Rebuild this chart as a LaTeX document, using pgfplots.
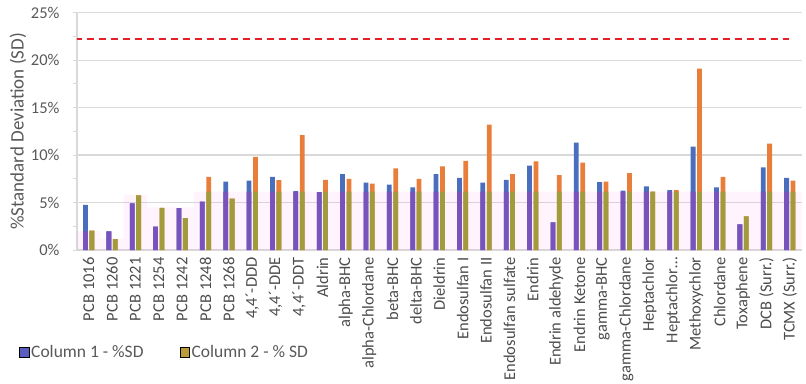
\documentclass[border=0pt]{standalone}
\usepackage{fontspec}
\setmainfont{Carlito}
\usepackage{pgfplots}
\usepackage{pgfplotstable}
\pgfplotsset{compat=1.18}
\definecolor{cblue}{HTML}{4A6EBE}
\definecolor{cpurple}{HTML}{7A52BC}
\definecolor{corange}{HTML}{E97D3A}
\definecolor{colive}{HTML}{A29B3C}
\definecolor{legblue}{HTML}{5A5CBE}
\definecolor{legolive}{HTML}{B99B3C}
\definecolor{gridgray}{HTML}{D9D9D9}
\definecolor{txtgray}{HTML}{595959}
\definecolor{dashred}{HTML}{E4202A}
\definecolor{bandpink}{HTML}{FF66DD}

\pgfplotstableread{
x c1 c1l c2 c2l band
0 4.75 1.95 2.05 2.05 2.0
1 1.95 1.95 1.15 1.15 1.2
2 4.9 4.9 5.75 5.75 5.8
3 2.45 2.45 4.45 4.45 4.5
4 4.4 4.4 3.35 3.35 4.5
5 5.1 5.1 7.7 6.15 6.15
6 7.2 6.15 5.4 5.4 6.15
7 7.3 6.15 9.8 6.15 6.15
8 7.7 6.15 7.35 6.15 6.15
9 6.2 6.15 12.1 6.15 6.15
10 6.1 6.1 7.4 6.15 6.15
11 8.0 6.15 7.5 6.15 6.15
12 7.1 6.15 7.0 6.15 6.15
13 6.9 6.15 8.6 6.15 6.15
14 6.6 6.15 7.5 6.15 6.15
15 8.0 6.15 8.8 6.15 6.15
16 7.6 6.15 9.4 6.15 6.15
17 7.1 6.15 13.2 6.15 6.15
18 7.4 6.15 8.0 6.15 6.15
19 8.9 6.15 9.35 6.15 6.15
20 2.9 2.9 7.9 6.15 6.15
21 11.3 6.15 9.2 6.15 6.15
22 7.15 6.15 7.2 6.15 6.15
23 6.25 6.15 8.1 6.15 6.15
24 6.7 6.15 6.15 6.15 6.15
25 6.3 6.15 6.3 6.15 6.15
26 10.9 6.15 19.1 6.15 6.15
27 6.6 6.15 7.7 6.15 6.15
28 2.7 2.7 3.55 3.55 6.15
29 8.7 6.15 11.2 6.15 6.15
30 7.6 6.15 7.3 6.15 6.15
}\data

\begin{document}
\begin{tikzpicture}
\path[use as bounding box] (0,0) rectangle (806pt,383pt);
\begin{axis}[
  at={(77pt,133pt)}, anchor=south west,
  scale only axis, width=724.5pt, height=237.3pt,
  xmin=-0.5, xmax=30.5, ymin=0, ymax=25,
  axis x line*=bottom, axis y line*=left,
  axis line style={draw=gridgray, line width=1.2pt},
  ytick={0,5,...,25}, minor ytick={2.5,7.5,...,22.5},
  tick align=outside, major tick length=4pt, minor tick length=4pt,
  ytick style={draw=gridgray, line width=1pt},
  minor tick style={draw=gridgray, line width=1pt},
  xtick style={draw=none},
  ymajorgrids, major grid style={draw=gridgray, line width=1.2pt},
  yticklabel={\pgfmathprintnumber{\tick}\%},
  yticklabel style={font=\fontsize{16.5}{19}\selectfont, text=txtgray, xshift=-10pt},
  /pgf/number format/assume math mode=true,
  xtick={0,...,30},
  xticklabels={{PCB 1016},{PCB 1260},{PCB 1221},{PCB 1254},{PCB 1242},{PCB 1248},{PCB 1268},{4,4´-DDD},{4,4´-DDE},{4,4´-DDT},{Aldrin},{alpha-BHC},{alpha-Chlordane},{beta-BHC},{delta-BHC},{Dieldrin},{Endosulfan I},{Endosulfan II},{Endosulfan sulfate},{Endrin},{Endrin aldehyde},{Endrin Ketone},{gamma-BHC},{gamma-Chlordane},{Heptachlor},{Heptachlor…},{Methoxychlor},{Chlordane},{Toxaphene},{DCB (Surr.)},{TCMX (Surr.)}},
  xticklabel style={rotate=90, anchor=east, font=\fontsize{16.5}{18}\selectfont, text=txtgray!85!black},
  ylabel={\%Standard Deviation (SD)},
  ylabel style={at={(axis description cs:-0.0814,0.5)}, anchor=center, font=\fontsize{19}{21}\selectfont, text=txtgray},
  legend style={at={(axis description cs:0,0)}, anchor=west, xshift=-61pt, yshift=-102pt, draw=none, fill=none, font=\fontsize{17.5}{19}\selectfont, text=txtgray, legend columns=2, /tikz/every even column/.append style={column sep=34pt}},
  legend image code/.code={\fill[#1] (0pt,-4.8pt) rectangle (9.6pt,4.8pt);},
]
% background band
\addplot[ybar, bar width=1, bar shift=0pt, draw=none, fill=bandpink, fill opacity=0.07, forget plot] table[x=x, y=band] {\data};
% column 1
\addplot[ybar, bar width=4.8pt, bar shift=-3.2pt, draw=none, fill=cblue, forget plot] table[x=x, y=c1] {\data};
\addplot[ybar, bar width=4.8pt, bar shift=-3.2pt, draw=none, fill=cpurple, forget plot] table[x=x, y=c1l] {\data};
% column 2
\addplot[ybar, bar width=4.8pt, bar shift=3.2pt, draw=none, fill=corange, forget plot] table[x=x, y=c2] {\data};
\addplot[ybar, bar width=4.8pt, bar shift=3.2pt, draw=none, fill=colive, forget plot] table[x=x, y=c2l] {\data};
% threshold
\addplot[dashred, line width=1.8pt, dash pattern=on 7.3pt off 4.7pt, forget plot] coordinates {(-0.6,22.2) (29.95,22.2)};
\addlegendimage{fill=legblue}
\addlegendentry{Column 1 - \%SD}
\addlegendimage{fill=legolive}
\addlegendentry{Column 2 - \% SD}
\end{axis}
\end{tikzpicture}
\end{document}
